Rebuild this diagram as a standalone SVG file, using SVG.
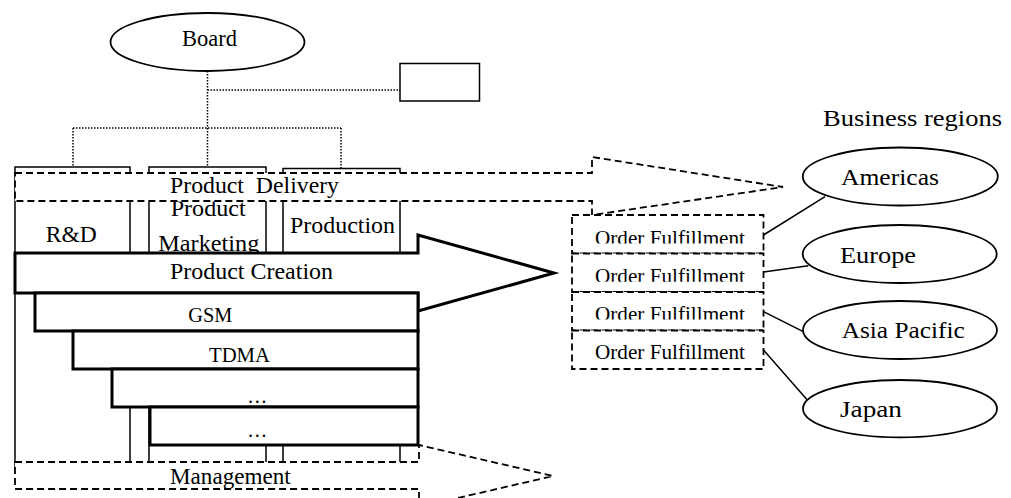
<svg xmlns="http://www.w3.org/2000/svg" width="1011" height="498" viewBox="0 0 1011 498">
<style>
text{font-family:"Liberation Serif","Times New Roman",serif;fill:#000}
.thin{fill:#fff;stroke:#000;stroke-width:1.5}
.thick{fill:#fff;stroke:#000;stroke-width:3;stroke-linejoin:miter}
.dash{fill:#fff;stroke:#000;stroke-width:1.8;stroke-dasharray:7 4}
.dot{fill:none;stroke:#000;stroke-width:1.5;stroke-dasharray:1.5 1.5}
.line{fill:none;stroke:#000;stroke-width:1.5}
.ell{fill:#fff;stroke:#000;stroke-width:1.8}
</style>
<defs>
<clipPath id="c1"><rect x="572" y="215" width="192" height="28.5"/></clipPath>
<clipPath id="c2"><rect x="572" y="253.5" width="192" height="28.2"/></clipPath>
<clipPath id="c3"><rect x="572" y="292" width="192" height="27.4"/></clipPath>
<clipPath id="cpm"><rect x="149" y="201.5" width="117" height="51"/></clipPath>
</defs>
<g id="connectors">
<path class="dot" d="M207.5 71 V167 M207.5 90 H400 M73 128 H341 M73 128 V167 M341 128 V168.5"/>
<path class="line" d="M763.5 235 L825 196.7 M763.5 272 L808.3 265.7 M763.5 311.7 L803.3 331.7 M763.5 350 L807.3 400"/>
</g>
<g id="board">
<ellipse class="ell" cx="207.5" cy="42" rx="97" ry="29"/>
<text x="182" y="46" font-size="22.5">Board</text>
</g>
<g id="staff-box">
<rect class="thin" x="400" y="63.5" width="79.5" height="37.5"/>
</g>
<g id="rnd">
<rect class="thin" x="15" y="167" width="115" height="303"/>
<text x="45.7" y="241.7" font-size="23.5" textLength="51" lengthAdjust="spacingAndGlyphs">R&amp;D</text>
</g>
<g id="product-marketing">
<rect class="thin" x="149" y="167" width="117" height="303"/>
<text x="170.7" y="215.5" font-size="23.5" textLength="75" lengthAdjust="spacingAndGlyphs" clip-path="url(#cpm)">Product</text>
<text x="158.3" y="251" font-size="24" textLength="101" lengthAdjust="spacingAndGlyphs">Marketing</text>
</g>
<g id="production">
<rect class="thin" x="283" y="168.5" width="117" height="301.5"/>
<text x="290" y="232.7" font-size="24" textLength="105" lengthAdjust="spacingAndGlyphs">Production</text>
</g>
<g id="product-delivery">
<path class="dash" d="M15 173 H592 V157 L783 187 L592 215 V201 H15 Z"/>
<text x="170" y="192.5" font-size="23.5" textLength="169" lengthAdjust="spacingAndGlyphs" xml:space="preserve">Product  Delivery</text>
</g>
<g id="product-creation">
<path class="thick" d="M15 253 H418 V235 L554 273 L418 311 V293 H15 Z"/>
<text x="170" y="279" font-size="24" textLength="163" lengthAdjust="spacingAndGlyphs">Product Creation</text>
</g>
<g id="gsm">
<rect class="thick" x="35" y="293" width="383" height="38"/>
<text x="188.3" y="322" font-size="20" textLength="44" lengthAdjust="spacingAndGlyphs">GSM</text>
</g>
<g id="tdma">
<rect class="thick" x="73" y="331" width="345" height="38"/>
<text x="209" y="362" font-size="20.5" textLength="61" lengthAdjust="spacingAndGlyphs">TDMA</text>
</g>
<g id="other-1">
<rect class="thick" x="112" y="369" width="306" height="38"/>
<text x="247.3" y="403" font-size="20">…</text>
</g>
<g id="other-2">
<rect class="thick" x="150" y="407" width="268" height="38"/>
<text x="247.3" y="437" font-size="20">…</text>
</g>
<g id="management">
<path class="dash" d="M15 462 H419 V445 L553 476 L419 507 V489 H15 Z"/>
<text x="170" y="484" font-size="23" textLength="120.7" lengthAdjust="spacingAndGlyphs">Management</text>
</g>
<g id="order-fulfillment-1">
<rect class="dash" x="572" y="215" width="191.5" height="38.5"/>
<text x="595" y="245.3" font-size="21" textLength="150" lengthAdjust="spacingAndGlyphs" clip-path="url(#c1)">Order Fulfillment</text>
</g>
<g id="order-fulfillment-2">
<rect class="dash" x="572" y="253.5" width="191.5" height="38.5"/>
<text x="595" y="283.3" font-size="21" textLength="150" lengthAdjust="spacingAndGlyphs" clip-path="url(#c2)">Order Fulfillment</text>
</g>
<g id="order-fulfillment-3">
<rect class="dash" x="572" y="292" width="191.5" height="38.5"/>
<text x="595" y="320.7" font-size="21" textLength="150" lengthAdjust="spacingAndGlyphs" clip-path="url(#c3)">Order Fulfillment</text>
</g>
<g id="order-fulfillment-4">
<rect class="dash" x="572" y="330.5" width="191.5" height="38.5"/>
<text x="595" y="358.5" font-size="21" textLength="150" lengthAdjust="spacingAndGlyphs">Order Fulfillment</text>
</g>
<g id="business-regions-label">
<text x="823" y="126" font-size="23" textLength="179" lengthAdjust="spacingAndGlyphs">Business regions</text>
</g>
<g id="americas">
<ellipse class="ell" cx="900.3" cy="176.5" rx="97.5" ry="29"/>
<text x="841" y="185" font-size="24" textLength="98" lengthAdjust="spacingAndGlyphs">Americas</text>
</g>
<g id="europe">
<ellipse class="ell" cx="899.7" cy="254" rx="97" ry="29"/>
<text x="840" y="262.7" font-size="24" textLength="76" lengthAdjust="spacingAndGlyphs">Europe</text>
</g>
<g id="asia-pacific">
<ellipse class="ell" cx="900" cy="330" rx="97" ry="29"/>
<text x="841.7" y="338.3" font-size="24" textLength="123" lengthAdjust="spacingAndGlyphs">Asia Pacific</text>
</g>
<g id="japan">
<ellipse class="ell" cx="900" cy="408.7" rx="97" ry="28.7"/>
<text x="840" y="416.7" font-size="24" textLength="62" lengthAdjust="spacingAndGlyphs">Japan</text>
</g>
</svg>
